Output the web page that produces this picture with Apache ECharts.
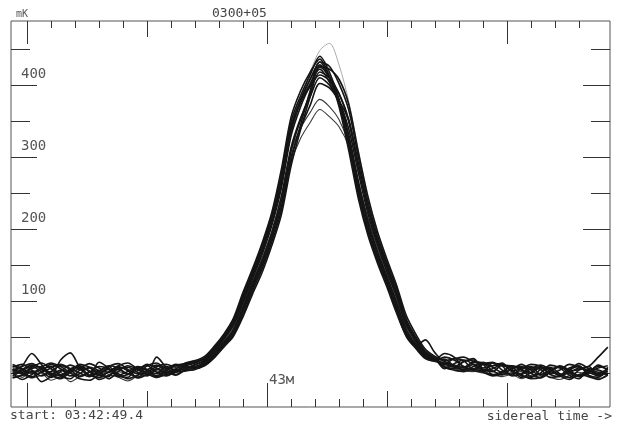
<!DOCTYPE html>
<html><head><meta charset="utf-8">
<script src="https://cdn.jsdelivr.net/npm/echarts@6/dist/echarts.min.js"></script>
<style>html,body{margin:0;padding:0;background:#fff}#c{width:618px;height:425px}</style>
</head><body><div id="c"></div>
<script>
// sample times (minutes of sidereal time)
const X = [41.94,41.98,42.02,42.06,42.10,42.14,42.18,42.22,42.26,42.30,42.34,42.38,42.42,42.46,42.50,42.54,42.58,42.62,42.66,42.70,42.74,42.78,42.82,42.86,42.90,42.94,42.98,43.02,43.06,43.10,43.14,43.18,43.22,43.26,43.30,43.34,43.38,43.42,43.46,43.50,43.54,43.58,43.62,43.66,43.70,43.74,43.78,43.82,43.86,43.90,43.94,43.98,44.02,44.06,44.10,44.14,44.18,44.22,44.26,44.30,44.34,44.38,44.42];

// individual drift-scan traces (mK)
const T1 = [8,12,4,-4,2,10,5,-5,1,9,6,-3,2,8,-1,-6,3,10,12,16, 21,35,52,73,109,142,177,218,276,349, 385,414,440,418,380,319,249,197,157,123, 86,51,34,20,17, 22,18,9,4,12,15,4,-3,6,9,-2,3,10,4,-4,2,9,5];
const T2 = [-6,-3,6,9,-2,-7,4,8,-4,15,7,-5,-2,6,10,1,-4,2,9,8, 11,23,38,53,81,114,145,182,226,295, 345,392,432,426,402,366,301,239,191,153, 118,75,50,30,21, 8,6,16,18,5,2,11,9,-4,-6,5,8,-1,-6,4,9,-2,6];
const T3 = [10,4,-6,2,12,6,-4,-1,8,3,-8,2,10,5,-2,22,8,-2,5,12, 17,30,47,66,98,131,165,205,257,329, 370,400,425,410,380,332,268,212,169,134, 98,60,40,24,18, 19,10,8,15,12,-2,0,10,6,-5,0,11,7,-3,-8,6,4,-2];
const T4 = [0,-9,-2,5,9,-4,-8,4,7,-2,-5,8,4,-6,4,11,2,-3,4,7, 13,26,41,58,88,121,153,191,238,308, 352,388,418,410,388,350,287,228,182,145, 110,69,46,27,20, 12,20,17,4,2,14,10,-4,-1,8,5,-6,-4,7,10,-3,-6,8];
const T5 = [4,9,13,6,-3,-8,1,10,2,-9,-4,6,-2,9,5,-4,5,12,8,9, 15,27,43,60,92,125,157,195,245,313, 354,384,410,400,378,340,279,222,178,141, 106,66,44,26,19, 27,22,8,6,13,3,-2,6,8,0,-7,1,9,2,-5,0,11,4];
const T6 = [2,10,27,12,-4,18,28,8,-3,3,9,-4,-6,8,4,-1,9,4,10,14, 20,34,50,71,105,138,173,214,270,342, 380,408,428,410,374,318,254,201,160,126, 90,54,36,22,17, 14,8,5,16,14,10,12,5,-6,1,9,-2,-5,3,13,6,-3,0];
const T7 = [-7,-3,2,-12,-5,4,0,-8,-10,-2,5,-1,-8,-3,2,-6,-2,1,3,5, 12,24,40,55,85,118,149,186,232,300, 340,372,402,396,378,352,292,232,186,148, 113,72,48,28,20, 8,4,2,6,1,-4,-2,0,-3,-8,-6,3,-4,-9,-2,-5,-9,-3];
const T8 = [6,1,8,14,6,-2,3,12,8,0,9,13,5,-1,10,14,6,11,13,17, 23,37,54,76,112,145,181,223,283,355, 392,418,436,412,370,310,243,192,153,119, 83,52,38,46,28, 17,20,22,16,13,14,10,8,9,5,7,6,8,3,5,9,22,36];
const T9 = [1,-6,3,0,-10,-5,1,-4,2,-7,-3,2,-1,-6,1,3,-2,4,5,7, 16,29,45,63,95,127,160,197,246,308, 340,362,380,370,352,318,262,212,170,135, 100,62,41,24,18, 9,6,3,2,5,3,-3,-1,2,-4,-6,0,-3,-7,-2,3,-4,0];
const T10 = [3,-2,-7,-3,2,1,-12,-5,1,4,-2,-6,-11,-4,3,-5,-2,1,3,5, 14,27,43,60,91,123,154,190,236,292, 326,348,366,356,342,315,265,216,174,139, 104,65,43,25,19, 10,8,5,3,0,-2,-5,-2,-8,-3,-1,-6,-9,-3,1,-4,-8,-2];
const T11 = [7,3,0,5,10,6,2,0,6,3,-1,5,8,3,6,4,8,10,13,18, 17,30,46,65,98,131,165,206,258,332, 380,418,448,458,428,378,310,246,196,154, 116,74,48,30,21, 20,17,18,14,12,10,12,7,5,8,4,2,5,7,4,6,3,5];
const T12 = [12,6,0,8,14,9,2,6,13,7,1,10,14,6,2,9,12,8,14,17, 19,33,50,68,101,135,169,210,263,336, 376,402,422,404,374,326,262,208,166,131, 94,57,38,24,19, 12,9,16,20,7,10,14,3,6,12,9,-1,4,12,8,2,7,10];
const T13 = [-4,3,9,2,-6,2,11,5,-3,-6,2,9,3,-7,-2,6,-1,3,8,6, 10,21,36,51,78,110,140,177,220,287, 338,384,426,422,408,374,308,246,197,158, 122,80,54,33,23, 16,10,4,9,15,8,1,5,12,4,-3,2,9,0,-4,4,1,-2];
const T14 = [5,-1,-5,1,7,12,6,0,-5,2,10,7,-1,3,12,7,1,6,11,15, 21,35,52,73,108,141,176,216,272,342, 376,398,414,406,388,352,290,232,186,148, 112,72,48,28,20, 6,13,18,12,3,6,12,2,-2,6,11,5,-2,0,7,3,-1,6];
const T15 = [-1,5,11,7,0,-4,6,9,3,-3,1,5,8,1,-4,5,9,2,7,11, 18,32,49,68,102,136,169,210,263,336, 378,408,432,412,378,322,256,202,162,127, 90,55,36,21,16, 14,11,7,12,4,-3,2,10,4,0,8,3,-3,5,9,1,-4,3];

const TRACES_DARK = [T1,T2,T3,T4,T5,T6,T7,T8,T12,T13,T14,T15];
const TRACES_MID = [T9,T10];
const TRACES_FAINT = [T11];

// axis ticks
const X_MIN = 41.9333, X_MAX = 44.4292;
const Y_MIN = -47.2, Y_MAX = 488.9;
const X_LONG = [42, 43, 44];
const X_MED = [42.5, 43.5];
const X_SHORT = [42.1,42.2,42.3,42.4,42.6,42.7,42.8,42.9,43.1,43.2,43.3,43.4,43.6,43.7,43.8,43.9,44.1,44.2,44.3];
const X_LABEL_VALUES = [43];
const X_LABEL_TEXT = ['43м'];
const Y_LONG = [0,100,200,300,400];
const Y_SHORT = [50,150,250,350,450];
const Y_LABELS = [100,200,300,400];

const MONO = '"DejaVu Sans Mono", "Liberation Mono", monospace';
const TICK = {color:'#333', width:1};

function xAx(pos, len, vals, label){
  return {type:'value', min:X_MIN, max:X_MAX, position:pos, gridIndex:0,
    axisLine:{show:false, onZero:false},
    splitLine:{show:false},
    axisTick:{show:true, inside:true, length:len, customValues:vals, lineStyle:TICK},
    axisLabel: label ? label : {show:false}};
}
function yAx(pos, len, vals, label){
  return {type:'value', min:Y_MIN, max:Y_MAX, position:pos, gridIndex:0,
    axisLine:{show:false, onZero:false},
    splitLine:{show:false},
    axisTick:{show:true, inside:true, length:len, customValues:vals, lineStyle:TICK},
    axisLabel: label ? label : {show:false}};
}

const series = [];
function addTraces(list, color, width){
  list.forEach(t => series.push({type:'line', xAxisIndex:0, yAxisIndex:0,
    data: X.map((x,i)=>[x,t[i]]), smooth:0.3, symbol:'none', silent:true,
    lineStyle:{color:color, width:width}, animation:false}));
}
addTraces(TRACES_FAINT, '#a0a0a0', 0.9);
addTraces(TRACES_MID, '#3a3a3a', 1.1);
addTraces(TRACES_DARK, '#151515', 1.6);

const chart = echarts.init(document.getElementById('c'), null, {renderer:'canvas'});
chart.setOption({
  animation:false,
  backgroundColor:'#fff',
  grid:{left:11, top:21, width:599, height:386, show:true, borderColor:'#555', borderWidth:1, backgroundColor:'transparent'},
  xAxis:[
    xAx('bottom', 24, X_LONG, {show:true, inside:true, customValues:X_LABEL_VALUES, margin:20,
      formatter:(v)=>X_LABEL_TEXT[X_LABEL_VALUES.indexOf(Math.round(v*1000)/1000)] || '',
      align:'left', verticalAlign:'bottom', padding:[0,0,0,2], color:'#555', fontFamily:MONO, fontSize:14}),
    xAx('bottom', 16, X_MED),
    xAx('bottom', 8, X_SHORT),
    xAx('top', 23, X_LONG),
    xAx('top', 16, X_MED),
    xAx('top', 7, X_SHORT)
  ],
  yAxis:[
    yAx('left', 26, Y_LONG, {show:true, inside:true, customValues:Y_LABELS, margin:10,
      align:'left', verticalAlign:'bottom', padding:[0,0,4,0], color:'#555', fontFamily:MONO, fontSize:14}),
    yAx('left', 19, Y_SHORT),
    yAx('right', 27, Y_LONG),
    yAx('right', 19, Y_SHORT)
  ],
  graphic:[
    {type:'text', style:{text:'mK', x:16, y:14, font:'10px '+MONO, fill:'#555', textVerticalAlign:'middle'}},
    {type:'text', style:{text:'0300+05', x:212, y:14, font:'13px '+MONO, fill:'#444', textVerticalAlign:'middle'}},
    {type:'text', style:{text:'start: 03:42:49.4', x:10, y:416, font:'13px '+MONO, fill:'#444', textVerticalAlign:'middle'}},
    {type:'text', style:{text:'sidereal time ->', x:612, y:417, font:'13px '+MONO, fill:'#444', textAlign:'right', textVerticalAlign:'middle'}}
  ],
  series: series
});
</script>
</body></html>
